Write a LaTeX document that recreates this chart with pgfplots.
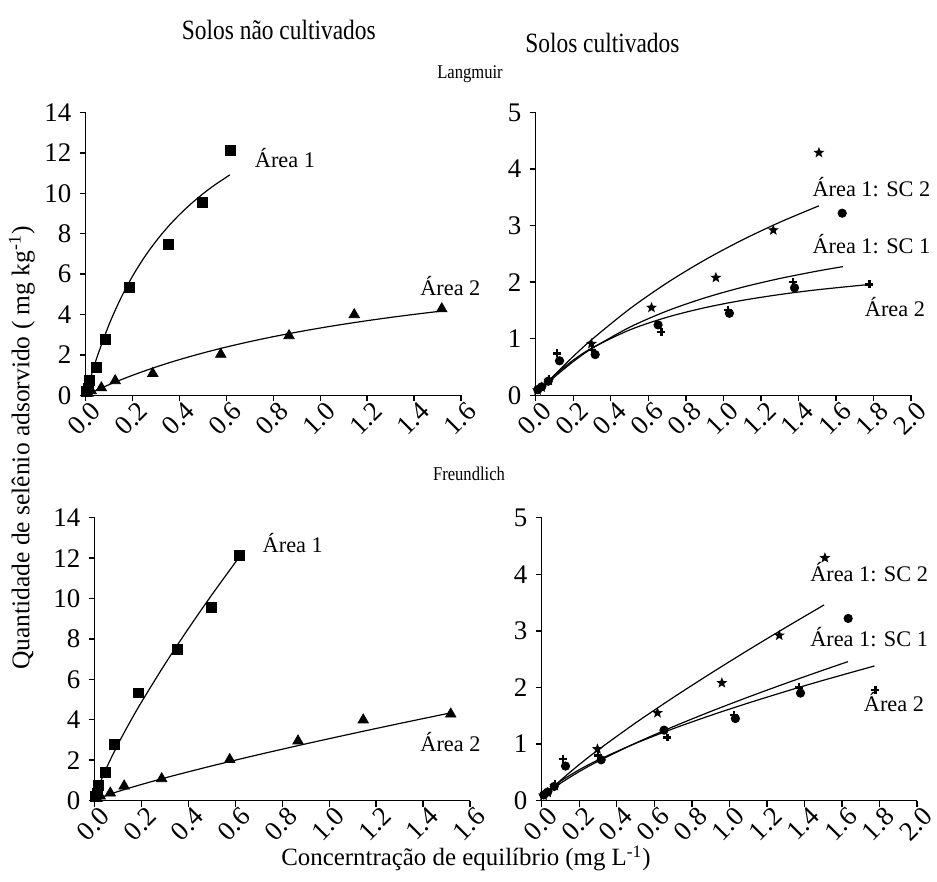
\documentclass[border=0pt]{standalone}
\usepackage{fontspec}
\setmainfont{Liberation Serif}
\usepackage{pgfplots}
\usepackage{pgfplotstable}
\pgfplotsset{compat=1.18}

% filled five-pointed star (outer radius = mark size, inner = 0.42 of it)
\pgfdeclareplotmark{fstar}{%
  \pgfpathmoveto{\pgfqpoint{0pt}{\pgfplotmarksize}}%
  \pgfpathlineto{\pgfqpoint{-0.247\pgfplotmarksize}{0.340\pgfplotmarksize}}%
  \pgfpathlineto{\pgfqpoint{-0.951\pgfplotmarksize}{0.309\pgfplotmarksize}}%
  \pgfpathlineto{\pgfqpoint{-0.399\pgfplotmarksize}{-0.130\pgfplotmarksize}}%
  \pgfpathlineto{\pgfqpoint{-0.588\pgfplotmarksize}{-0.809\pgfplotmarksize}}%
  \pgfpathlineto{\pgfqpoint{0pt}{-0.420\pgfplotmarksize}}%
  \pgfpathlineto{\pgfqpoint{0.588\pgfplotmarksize}{-0.809\pgfplotmarksize}}%
  \pgfpathlineto{\pgfqpoint{0.399\pgfplotmarksize}{-0.130\pgfplotmarksize}}%
  \pgfpathlineto{\pgfqpoint{0.951\pgfplotmarksize}{0.309\pgfplotmarksize}}%
  \pgfpathlineto{\pgfqpoint{0.247\pgfplotmarksize}{0.340\pgfplotmarksize}}%
  \pgfpathclose\pgfusepathqfill}

% measured isotherm points, uncultivated soils
\pgfplotstableread{
x y
0.005 0.20
0.010 0.35
0.017 0.75
0.045 1.38
0.086 2.76
0.188 5.33
0.352 7.46
0.499 9.57
0.617 12.12
}\ncAreaA
\pgfplotstableread{
x y
0.010 0.10
0.024 0.22
0.067 0.37
0.126 0.72
0.286 1.08
0.576 2.03
0.867 2.95
1.145 3.99
1.518 4.28
}\ncAreaB

% measured isotherm points, cultivated soils
\pgfplotstableread{
x y
0.010 0.09
0.032 0.14
0.070 0.26
0.297 0.91
0.617 1.55
0.960 2.08
1.266 2.92
1.509 4.29
}\scSCtwo
\pgfplotstableread{
x y
0.011 0.10
0.032 0.15
0.067 0.25
0.127 0.61
0.317 0.72
0.652 1.245
1.032 1.45
1.379 1.90
1.633 3.22
}\scSCone
\pgfplotstableread{
x y
0.010 0.10
0.030 0.14
0.070 0.29
0.113 0.74
0.300 0.80
0.670 1.115
1.025 1.51
1.372 2.00
1.778 1.96
}\scAreaB

\pgfplotsset{
  panel/.style={
    scale only axis, width=188.5pt, height=142pt,
    axis x line*=bottom, axis y line*=left,
    axis line style={-, line width=0.7pt},
    tick align=outside, major tick length=3pt,
    tick style={black, line width=0.7pt},
    ymin=0, xmin=0, clip=false,
    tick label style={font=\fontsize{13.5}{13.5}\selectfont},
    /pgf/number format/assume math mode=true,
    xticklabel style={rotate=45, anchor=north east, inner sep=1pt, xshift=3pt,
      /pgf/number format/.cd, fixed, fixed zerofill, precision=1},
    yticklabel style={inner sep=2pt, xshift=-2pt},
  },
}
\tikzset{
  fitline/.style={black, line width=0.6pt, smooth},
  lab/.style={font=\fontsize{11.2}{11.2}\selectfont, anchor=west, inner sep=0pt},
}

\begin{document}
\begin{tikzpicture}

% ---------- Langmuir, uncultivated ----------
\begin{axis}[panel, at={(43pt,244pt)}, anchor=south west,
  xmax=1.6, ymax=14, xtick={0,0.2,...,1.6}, ytick={0,2,...,14}]
\addplot[fitline, no marks] coordinates {(0.005,0.214) (0.02,0.827) (0.05,1.938) (0.1,3.508) (0.15,4.806) (0.2,5.898) (0.25,6.828) (0.3,7.630) (0.35,8.330) (0.4,8.944) (0.45,9.489) (0.5,9.975) (0.55,10.411) (0.615,10.915)};
\addplot[fitline, no marks] coordinates {(0.02,0.111) (0.068,0.366) (0.126,0.654) (0.2,0.991) (0.3,1.401) (0.4,1.767) (0.5,2.094) (0.6,2.390) (0.7,2.658) (0.8,2.902) (0.9,3.126) (1.0,3.331) (1.1,3.520) (1.2,3.694) (1.3,3.856) (1.4,4.006) (1.518,4.171)};
\addplot[only marks, mark=square*, mark size=2.5pt, black] table {\ncAreaA};
\addplot[only marks, mark=triangle*, mark size=3pt, black] table {\ncAreaB};
\node[lab] at (axis cs:0.72,11.75) {Área 1};
\node[lab] at (axis cs:1.425,5.43) {Área 2};
\end{axis}

% ---------- Langmuir, cultivated ----------
\begin{axis}[panel, at={(269pt,244pt)}, anchor=south west,
  xmax=2.0, ymax=5, xtick={0,0.2,...,2.0}, ytick={0,1,...,5}]
\addplot[fitline, no marks] coordinates {(0.01,0.0373) (0.05,0.1831) (0.1,0.3583) (0.2,0.6867) (0.3,0.9888) (0.5,1.5257) (0.7,1.9884) (0.9,2.3913) (1.1,2.7453) (1.3,3.0587) (1.509,3.350)};
\addplot[fitline, no marks] coordinates {(0.01,0.0351) (0.05,0.1691) (0.1,0.3236) (0.2,0.5957) (0.3,0.8277) (0.5,1.2023) (0.7,1.4916) (0.9,1.7217) (1.1,1.9092) (1.3,2.0649) (1.5,2.1962) (1.637,2.275)};
\addplot[fitline, no marks] coordinates {(0.01,0.0398) (0.05,0.1880) (0.1,0.3515) (0.2,0.6219) (0.3,0.8364) (0.5,1.155) (0.7,1.3804) (0.9,1.5482) (1.1,1.6780) (1.3,1.7815) (1.5,1.8658) (1.778,1.960)};
\addplot[only marks, mark=fstar, mark size=2.9pt, black] table {\scSCtwo};
\addplot[only marks, mark=*, mark size=2.1pt, black] table {\scSCone};
\addplot[only marks, mark=+, mark size=2pt, line width=1.2pt, black] table {\scAreaB};
\node[lab] at (axis cs:1.473,3.68) {Área 1: SC 2};
\node[lab] at (axis cs:1.473,2.67) {Área 1: SC 1};
\node[lab] at (axis cs:1.752,1.556) {Área 2};
\end{axis}

% ---------- Freundlich, uncultivated ----------
\begin{axis}[panel, at={(47.5pt,40.5pt)}, anchor=south west,
  xmax=1.6, ymax=14, xtick={0,0.2,...,1.6}, ytick={0,2,...,14}]
\addplot[fitline, no marks] coordinates {(0.02,0.766) (0.05,1.600) (0.1,2.795) (0.15,3.871) (0.2,4.878) (0.3,6.757) (0.4,8.516) (0.5,10.19) (0.615,12.03)};
\addplot[fitline, no marks] coordinates {(0.02,0.117) (0.068,0.325) (0.15,0.628) (0.3,1.121) (0.5,1.717) (0.7,2.275) (0.9,2.806) (1.1,3.318) (1.3,3.815) (1.518,4.341)};
\addplot[only marks, mark=square*, mark size=2.5pt, black] table {\ncAreaA};
\addplot[only marks, mark=triangle*, mark size=3pt, black] table {\ncAreaB};
\node[lab] at (axis cs:0.715,12.76) {Área 1};
\node[lab] at (axis cs:1.387,2.91) {Área 2};
\end{axis}

% ---------- Freundlich, cultivated ----------
\begin{axis}[panel, at={(272pt,40.5pt)}, anchor=south west,
  xmax=2.0, ymax=5, xtick={0,0.2,...,2.0}, ytick={0,1,...,5}]
\addplot[fitline, no marks] coordinates {(0.01,0.0514) (0.05,0.1984) (0.1,0.3552) (0.2,0.6358) (0.3,0.8936) (0.5,1.372) (0.7,1.820) (0.9,2.247) (1.1,2.660) (1.3,3.060) (1.505,3.46)};
\addplot[fitline, no marks] coordinates {(0.01,0.0546) (0.05,0.1816) (0.1,0.3051) (0.2,0.5119) (0.3,0.6930) (0.5,1.015) (0.7,1.305) (0.9,1.5745) (1.1,1.829) (1.3,2.072) (1.5,2.306) (1.632,2.456)};
\addplot[fitline, no marks] coordinates {(0.01,0.0718) (0.05,0.2133) (0.1,0.3408) (0.2,0.5444) (0.3,0.7161) (0.5,1.0114) (0.7,1.2698) (0.9,1.505) (1.1,1.7235) (1.3,1.9296) (1.5,2.1257) (1.773,2.38)};
\addplot[only marks, mark=fstar, mark size=2.9pt, black] table {\scSCtwo};
\addplot[only marks, mark=*, mark size=2.1pt, black] table {\scSCone};
\addplot[only marks, mark=+, mark size=2pt, line width=1.2pt, black] table {\scAreaB};
\node[lab] at (axis cs:1.429,4.035) {Área 1: SC 2};
\node[lab] at (axis cs:1.429,2.89) {Área 1: SC 1};
\node[lab] at (axis cs:1.715,1.737) {Área 2};
\end{axis}

% titles and shared axis labels
\node at (140pt,427.5pt) {\scalebox{0.84}[1]{\fontsize{14}{14}\selectfont Solos não cultivados}};
\node at (302.5pt,421pt) {\scalebox{0.84}[1]{\fontsize{14}{14}\selectfont Solos cultivados}};
\node at (236pt,405.5pt) {\scalebox{0.85}[1]{\fontsize{9.8}{9.8}\selectfont Langmuir}};
\node at (235.5pt,204.5pt) {\scalebox{0.85}[1]{\fontsize{9.8}{9.8}\selectfont Freundlich}};
\node[font=\fontsize{12.8}{12.8}\selectfont, rotate=90] at (11pt,217.5pt) {Quantidade de selênio adsorvido ( mg kg\textsuperscript{-1})};
\node[font=\fontsize{12.5}{12.5}\selectfont] at (234pt,11.5pt) {Concerntração de equilíbrio (mg L\textsuperscript{-1})};

% page frame
\path (0pt,0pt) rectangle (468.5pt,442.5pt);
\end{tikzpicture}
\end{document}
